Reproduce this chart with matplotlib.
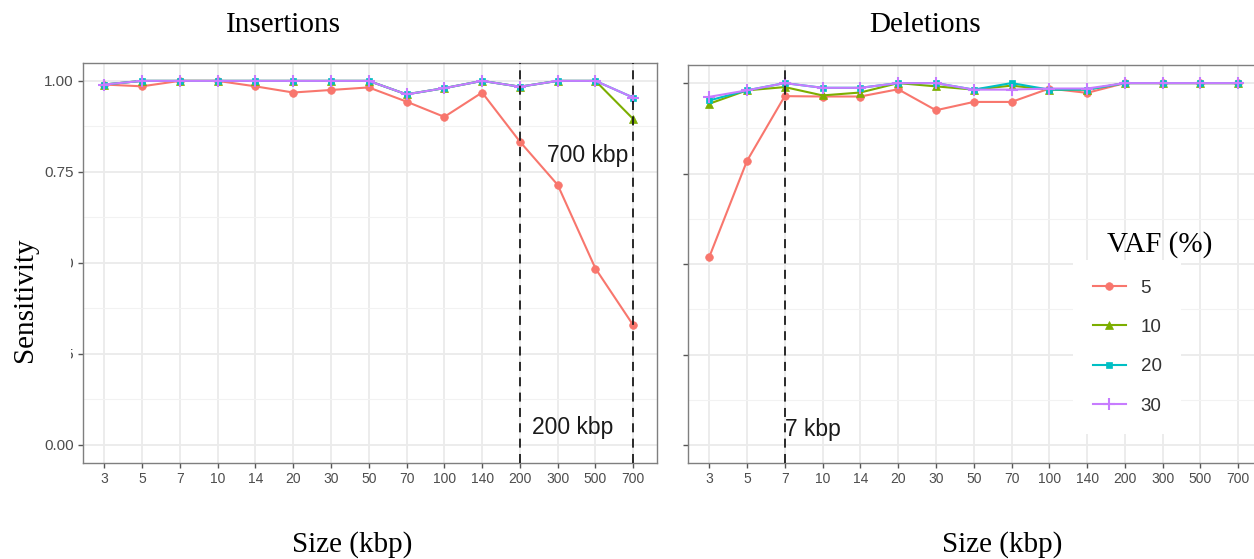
import numpy as np
import matplotlib
matplotlib.use("Agg")
import matplotlib.pyplot as plt
from matplotlib.lines import Line2D
from matplotlib.patches import Rectangle

# Size categories (kbp)
sizes = ["3", "5", "7", "10", "14", "20", "30", "50", "70", "100", "140", "200", "300", "500", "700"]
vaf_levels = ["5", "10", "20", "30"]

# Insertion sensitivity by VAF
ins_5 = [0.990, 0.985, 1.000, 1.000, 0.985, 0.968, 0.975, 0.982, 0.943, 0.901, 0.968, 0.833, 0.714, 0.484, 0.328]
ins_10 = [0.990, 1.000, 1.000, 1.000, 1.000, 1.000, 1.000, 1.000, 0.963, 0.980, 1.000, 0.984, 1.000, 1.000, 0.895]
ins_20 = [0.990, 1.000, 1.000, 1.000, 1.000, 1.000, 1.000, 1.000, 0.963, 0.980, 1.000, 0.984, 1.000, 1.000, 0.954]
ins_30 = [0.990, 1.000, 1.000, 1.000, 1.000, 1.000, 1.000, 1.000, 0.963, 0.980, 1.000, 0.984, 1.000, 1.000, 0.954]

# Deletion sensitivity by VAF
del_5 = [0.519, 0.785, 0.964, 0.963, 0.963, 0.983, 0.925, 0.948, 0.948, 0.985, 0.973, 1.000, 1.000, 1.000, 1.000]
del_10 = [0.943, 0.980, 0.989, 0.966, 0.974, 1.000, 0.991, 0.982, 0.993, 0.982, 0.982, 1.000, 1.000, 1.000, 1.000]
del_20 = [0.952, 0.980, 1.000, 0.987, 0.987, 1.000, 1.000, 0.982, 1.000, 0.982, 0.982, 1.000, 1.000, 1.000, 1.000]
del_30 = [0.962, 0.980, 1.000, 0.987, 0.987, 1.000, 1.000, 0.982, 0.982, 0.985, 0.985, 1.000, 1.000, 1.000, 1.000]

# Reference sizes marked with dashed lines
ins_marks = ["200", "700"]
del_marks = ["7"]

colors = ["#F8766D", "#7CAE00", "#00BFC4", "#C77CFF"]
markers = ["o", "^", "s", "+"]
msizes = [5.5, 6, 5, 8]

SERIF = "Liberation Serif"
SANS = "Liberation Sans"

fig = plt.figure(figsize=(12.54, 5.59), dpi=100)
W, H = 1254, 559


def px_axes(left, top, right, bottom):
    return fig.add_axes([left / W, 1 - bottom / H, (right - left) / W, (bottom - top) / H])


ax1 = px_axes(83, 62.7, 656.7, 462.7)
ax2 = px_axes(688, 65, 1261.7, 463.3)

x = np.arange(len(sizes))


def style(ax, show_labels):
    ax.set_xlim(-0.56, len(sizes) - 1 + 0.62)
    ax.set_ylim(-0.05, 1.05)
    ax.set_xticks(x)
    ax.set_xticklabels(sizes)
    yt = [0.0, 0.25, 0.5, 0.75, 1.0]
    ax.set_yticks(yt)
    ax.set_yticklabels(["0.00", "0.25", "0.50", "0.75", "1.00"] if show_labels else [])
    ax.set_yticks([0.125, 0.375, 0.625, 0.875], minor=True)
    ax.grid(True, which="major", color="#EBEBEB", linewidth=1.3, zorder=0)
    ax.grid(True, which="minor", axis="y", color="#F2F2F2", linewidth=0.8, zorder=0)
    ax.set_axisbelow(True)
    ax.tick_params(axis="both", which="major", length=3.5, width=1, color="#555555",
                   labelcolor="#4D4D4D", pad=3)
    ax.tick_params(axis="x", which="major", labelsize=10)
    ax.tick_params(axis="y", which="major", labelsize=11)
    ax.tick_params(axis="y", which="minor", length=0)
    for lab in ax.get_xticklabels() + ax.get_yticklabels():
        lab.set_fontfamily(SANS)
    for sp in ax.spines.values():
        sp.set_color("#7F7F7F")
        sp.set_linewidth(1.0)


def draw(ax, series, marks):
    for vals, c, m, ms in zip(series, colors, markers, msizes):
        ax.plot(x, vals, color=c, linewidth=1.5, marker=m, markersize=ms,
                markeredgewidth=1.5 if m == "+" else 0.5, markeredgecolor=c, zorder=3)
    for mk in marks:
        ax.axvline(sizes.index(mk), color="#1A1A1A", linestyle=(0, (5, 3.5)), linewidth=1.3, zorder=4)


style(ax1, True)
style(ax2, False)
draw(ax1, [ins_5, ins_10, ins_20, ins_30], ins_marks)
draw(ax2, [del_5, del_10, del_20, del_30], del_marks)

# Reference size labels
ax1.text(12.8, 0.795, "700 kbp", fontsize=16.5, family=SANS, color="#1A1A1A", ha="center", va="center", zorder=5)
ax1.text(12.4, 0.047, "200 kbp", fontsize=16.5, family=SANS, color="#1A1A1A", ha="center", va="center", zorder=5)
ax2.text(2.75, 0.043, "7 kbp", fontsize=16.5, family=SANS, color="#1A1A1A", ha="center", va="center", zorder=5)

# Titles and axis labels
fig.text(283 / W, 1 - 25 / H, "Insertions", fontsize=21, family=SERIF, ha="center", va="center")
fig.text(925 / W, 1 - 25 / H, "Deletions", fontsize=21, family=SERIF, ha="center", va="center")
fig.text(352 / W, 1 - 545 / H, "Size (kbp)", fontsize=21, family=SERIF, ha="center", va="center")
fig.text(1002 / W, 1 - 545 / H, "Size (kbp)", fontsize=21, family=SERIF, ha="center", va="center")

# White panel behind the y-axis title
fig.patches.append(Rectangle((0, 1 - 400 / H), 71 / W, 185 / H, transform=fig.transFigure,
                             facecolor="white", edgecolor="none", zorder=10))
fig.text(25 / W, 1 - 300 / H, "Sensitivity", fontsize=21, family=SERIF, rotation=90,
         ha="center", va="center", zorder=11)

# Legend
handles = [Line2D([0], [0], color=c, marker=m, markersize=ms, linewidth=1.5,
                  markeredgewidth=1.5 if m == "+" else 0.5, markeredgecolor=c)
           for c, m, ms in zip(colors, markers, msizes)]
leg = ax2.legend(handles, vaf_levels, loc="upper left",
                 bbox_to_anchor=(1073 / W, 1 - 432 / H, 104 / W, 172 / H),
                 bbox_transform=fig.transFigure, frameon=True, fancybox=False,
                 prop={"family": SANS, "size": 13.5}, labelspacing=1.18, handlelength=1.75,
                 handletextpad=0.8, borderpad=1.05, borderaxespad=0)
leg.get_frame().set_facecolor("white")
leg.get_frame().set_edgecolor("none")
leg.get_frame().set_alpha(1)
for t in leg.get_texts():
    t.set_color("#333333")
leg.set_zorder(6)
fig.text(1160 / W, 1 - 245 / H, "VAF (%)", fontsize=21, family=SERIF, ha="center", va="center")

fig.savefig("out.png", dpi=100)
